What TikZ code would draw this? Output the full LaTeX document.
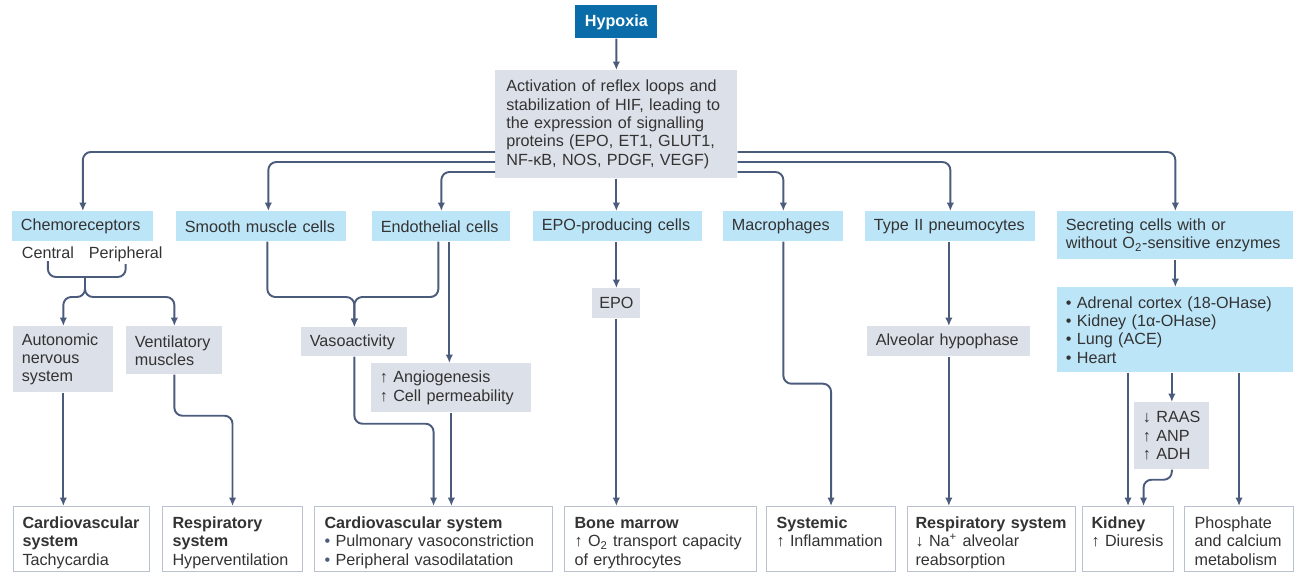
\documentclass[tikz,border=0pt]{standalone}
\usepackage{fontspec}
\setmainfont{Liberation Sans}
\usepackage{xcolor}
\usetikzlibrary{arrows.meta,positioning}

\definecolor{hypoxiablue}{HTML}{0A6DAA}
\definecolor{cellblue}{HTML}{BDE5F8}
\definecolor{stepgray}{HTML}{DCE0E8}
\definecolor{linkblue}{HTML}{4B5B7C}
\definecolor{boxline}{HTML}{B9C1CE}
\definecolor{textgray}{HTML}{333333}
\hyphenpenalty=10000

\begin{document}
\begin{tikzpicture}[x=0.2mm,y=-0.2mm,
    every node/.style={font=\fontsize{9.2}{10.4}\selectfont,text=textgray},
    cellbox/.style={fill=cellblue,anchor=north west,align=left,inner xsep=1.7mm,inner ysep=0pt,minimum height=6mm},
    stepbox/.style={fill=stepgray,anchor=north west,align=left,inner xsep=1.7mm,inner ysep=0pt},
    organbox/.style={draw=boxline,line width=0.6pt,fill=white,anchor=north west,align=left,
      inner xsep=2mm,inner ysep=0pt,text height=4.4mm,text depth=8.6mm},
    link/.style={draw=linkblue,line width=1.1pt,rounded corners=1.6mm},
    arr/.style={link,-{Latex[length=1.7mm,width=1.5mm]}}]

    \useasboundingbox (0,0) rectangle (1296,573);

    \node[fill=hypoxiablue,anchor=north west,minimum width=16.4mm,minimum height=6.6mm,
      text=white,font=\fontsize{9.2}{10.4}\selectfont\bfseries] (hyp) at (575,5) {Hypoxia};
    \node[stepbox,text width=44mm,inner xsep=2.2mm,minimum height=21.6mm] (act) at (495,70)
      {Activation of reflex loops and\\ stabilization of HIF, leading to\\ the expression of signalling\\
       proteins (EPO, ET1, GLUT1,\\ NF-κB, NOS, PDGF, VEGF)};

    % cell types
    \node[cellbox,text width=24.8mm] (chemo) at (12,211) {Chemoreceptors};
    \node[cellbox,text width=30.6mm] (smooth) at (176,211) {Smooth muscle cells};
    \node[cellbox,text width=24.2mm] (endo) at (372,211) {Endothelial cells};
    \node[cellbox,text width=30.4mm] (epoc) at (533,211) {EPO-producing cells};
    \node[cellbox,text width=20.6mm] (macro) at (723,211) {Macrophages};
    \node[cellbox,text width=30.6mm] (type2) at (865,211) {Type II pneumocytes};
    \node[cellbox,text width=43.8mm,minimum height=9.6mm] (secr) at (1057,211)
      {Secreting cells with or\\ without O\textsubscript{2}-sensitive enzymes};

    \node[anchor=base west,inner sep=0.5mm] (cen) at (19,258) {Central};
    \node[anchor=base west,inner sep=0.5mm] (per) at (86,258) {Peripheral};

    % intermediate steps
    \node[stepbox,text width=16.6mm,minimum height=13.2mm] (auto) at (13,326) {Autonomic\\ nervous\\ system};
    \node[stepbox,text width=15.8mm,minimum height=9.6mm] (vent) at (126,326) {Ventilatory\\ muscles};
    \node[stepbox,text width=17.8mm,minimum height=5.8mm] (vaso) at (301,327) {Vasoactivity};
    \node[stepbox,text width=28.6mm,minimum height=9.8mm] (angio) at (371,363) {↑~Angiogenesis\\ ↑~Cell permeability};
    \node[stepbox,minimum width=9.6mm,minimum height=6mm,inner xsep=0pt] (epo) at (592,288) {EPO};
    \node[stepbox,text width=29.2mm,minimum height=6mm] (alv) at (867,326) {Alveolar hypophase};
    \node[cellbox,text width=43.8mm,minimum height=17mm] (list) at (1057,287)
      {• Adrenal cortex (18-OHase)\\ • Kidney (1α-OHase)\\ • Lung (ACE)\\ • Heart};
    \node[stepbox,text width=11.6mm,minimum height=13.4mm] (raas) at (1134,402) {↓~RAAS\\ ↑~ANP\\ ↑~ADH};

    % organ effects
    \node[organbox,text width=23.6mm,inner xsep=1.8mm] (cv1) at (13,506) {\textbf{Cardiovascular}\\ \textbf{system}\\ Tachycardia};
    \node[organbox,text width=24mm] (resp1) at (162,506) {\textbf{Respiratory}\\ \textbf{system}\\ Hyperventilation};
    \node[organbox,text width=43.6mm] (cv2) at (314,506) {\textbf{Cardiovascular system}\\
      {\color{linkblue}•} Pulmonary vasoconstriction\\ {\color{linkblue}•} Peripheral vasodilatation};
    \node[organbox,text width=34.4mm] (bone) at (564,506) {\textbf{Bone marrow}\\
      ↑~O\textsubscript{2} transport capacity\\ of erythrocytes};
    \node[organbox,text width=21.8mm] (sys) at (766,506) {\textbf{Systemic}\\ ↑~Inflammation};
    \node[organbox,text width=30.4mm,inner xsep=1.6mm] (resp2) at (907,506) {\textbf{Respiratory system}\\
      ↓~Na\textsuperscript{+} alveolar\\ reabsorption};
    \node[organbox,text width=14.6mm,inner xsep=1.8mm] (kid) at (1082,506) {\textbf{Kidney}\\ ↑~Diuresis};
    \node[organbox,text width=17.8mm] (phos) at (1184,506) {Phosphate\\ and calcium\\ metabolism};

    % from hypoxia to the cells
    \draw[arr] (hyp) -- (act);
    \draw[arr] (act.west |- 0,152) -| (chemo);
    \draw[arr] (act.east |- 0,152) -| (secr);
    \draw[arr] (act.west |- 0,162) -| ([xshift=1.4mm]smooth.north);
    \draw[arr] (act.east |- 0,162) -| (type2);
    \draw[arr] (act.west |- 0,172) -| (endo);
    \draw[arr] (act.east |- 0,172) -| (macro);
    \draw[arr] (act.south) -- (act.south |- epoc.north);

    % chemoreceptors
    \coordinate (chj) at (85,277);
    \coordinate (chs) at (85,297);
    \draw[link] (cen.south) |- (chj) -| (per.south);
    \draw[arr] (chj) -- (chs) -| (auto);
    \draw[arr] (chj) -- (chs) -| (vent);
    \draw[arr] (auto.south) -- (auto.south |- cv1.north);
    \draw[arr] (vent.south) -- ++(0,41) -| (resp1);

    % vessels
    \coordinate (vsj) at (vaso.north |- chs);
    \coordinate (endoR) at ([xshift=1.6mm]endo.south);
    \draw[arr] ([xshift=1.2mm]smooth.south) |- (vsj) -- (vaso);
    \draw[arr] ([xshift=-0.6mm]endo.south) |- (vsj) -- (vaso);
    \draw[arr] (endoR) -- (endoR |- angio.north);
    \draw[arr] (vaso.south) -- ++(0,67) -| (cv2);
    \draw[arr] (angio.south) -- (angio.south |- cv2.north);

    % EPO, macrophages, lung
    \draw[arr] (epoc.south -| epo) -- (epo);
    \draw[arr] (epo.south) -- (epo.south |- bone.north);
    \draw[arr] (macro.south) -- ++(0,142) -| (sys);
    \draw[arr] (type2.south -| alv) -- (alv);
    \draw[arr] (alv.south) -- (alv.south |- resp2.north);

    % secreting cells
    \draw[arr] (secr) -- (list);
    \draw[arr] (list.south -| kid) -- (kid);
    \draw[arr] (list.south -| raas) -- (raas);
    \draw[arr] (list.south -| phos) -- (phos);
    \draw[arr] (raas.south) -- ++(0,10) -| ([xshift=3.1mm]kid.north);
\end{tikzpicture}
\end{document}
